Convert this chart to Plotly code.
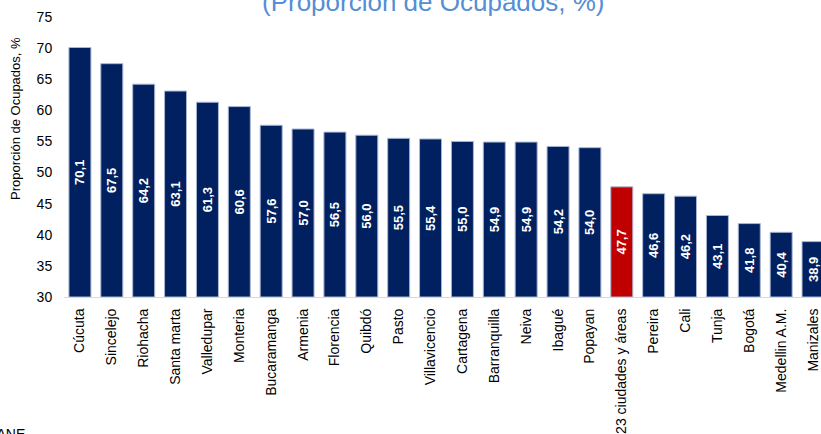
import plotly.graph_objects as go

ciudades = ["Cúcuta", "Sincelejo", "Riohacha", "Santa marta", "Valledupar", "Monteria",
            "Bucaramanga", "Armenia", "Florencia", "Quibdó", "Pasto", "Villavicencio",
            "Cartagena", "Barranquilla", "Neiva", "Ibagué", "Popayan", "23 ciudades y áreas",
            "Pereira", "Cali", "Tunja", "Bogotá", "Medellin A.M.", "Manizales"]
ocupados = [70.1, 67.5, 64.2, 63.1, 61.3, 60.6, 57.6, 57.0, 56.5, 56.0, 55.5, 55.4,
            55.0, 54.9, 54.9, 54.2, 54.0, 47.7, 46.6, 46.2, 43.1, 41.8, 40.4, 38.9]
total_label = "23 ciudades y áreas"
eje_min, eje_max = 30, 75

NAVY = "#002060"
RED = "#C00000"
colors = [RED if c == total_label else NAVY for c in ciudades]

FONT = "Arial, 'Liberation Sans', sans-serif"
W, H = 821, 434
# plot area in page pixels: left 64, top 17, bottom 297; right runs past the window edge
ML, MT = 64, 17
MB = H - 297
plot_w = W - ML
plot_h = H - MT - MB


def px(x_page):
    return (x_page - ML) / plot_w


def py(y_page):
    return (H - MB - y_page) / plot_h


# bars start at the axis minimum (as in the original chart), so labels centre on the visible bar
fig = go.Figure(go.Bar(
    x=ciudades, y=[v - eje_min for v in ocupados], base=eje_min,
    customdata=ocupados,
    marker=dict(color=colors, line=dict(color="#A9B6D3", width=1)),
    texttemplate="%{customdata:.1f}", textposition="inside", insidetextanchor="middle",
    textangle=-90, textfont=dict(color="white", size=13, family=FONT, weight="bold"),
    constraintext="none", cliponaxis=True,
))

fig.update_layout(
    width=W, height=H,
    margin=dict(l=ML, r=0, t=MT, b=MB, pad=0, autoexpand=False),
    plot_bgcolor="white", paper_bgcolor="white",
    separators=",.",
    bargap=0.31,
    showlegend=False,
    font=dict(family=FONT, size=14, color="black"),
    xaxis=dict(range=[-0.5, 23.25], tickangle=-90, showgrid=False, automargin=False,
               showline=True, linecolor="#D9D9D9", linewidth=1,
               ticks="outside", ticklen=5, tickcolor="rgba(0,0,0,0)",
               tickfont=dict(size=14, family=FONT, color="black")),
    yaxis=dict(range=[eje_min, eje_max], dtick=5, showgrid=False, showline=False, zeroline=False,
               automargin=False,
               ticks="outside", ticklen=8, tickcolor="rgba(0,0,0,0)",
               tickfont=dict(size=14, family=FONT, color="black")),
    annotations=[
        dict(text="(Proporción de Ocupados, %)", xref="paper", yref="paper",
             x=px(433), y=py(2), xanchor="center", yanchor="middle",
             showarrow=False, font=dict(size=26, color="#558ED5", family=FONT)),
        dict(text="Proporción de Ocupados, %", xref="paper", yref="paper",
             x=px(15), y=py(119), xanchor="center", yanchor="middle",
             textangle=-90, showarrow=False, font=dict(size=13, color="black", family=FONT)),
        dict(text="Fuente: DANE", xref="paper", yref="paper",
             x=px(27), y=py(424), xanchor="right", yanchor="top",
             showarrow=False, font=dict(size=14, color="black", family=FONT)),
    ],
)

fig.write_html("out.html", config={"displayModeBar": False},
               post_script="document.body.style.margin='0';document.body.style.overflow='hidden';")
